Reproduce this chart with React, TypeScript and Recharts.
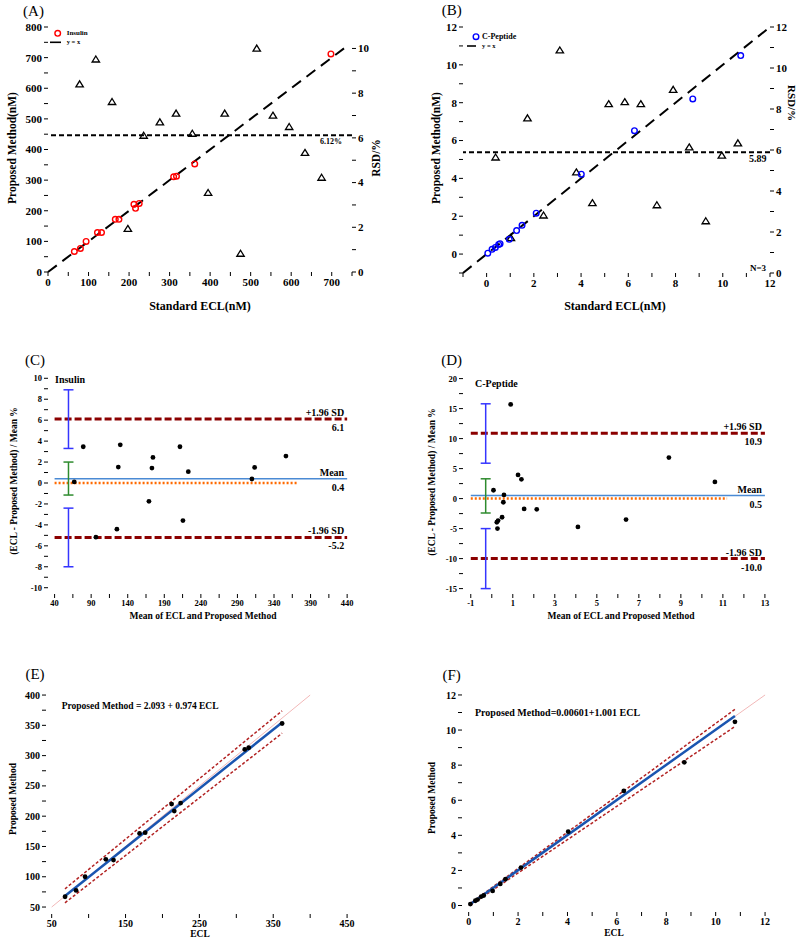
import React from 'react';
import { ScatterChart, Scatter, XAxis, YAxis, ReferenceLine, ReferenceArea, ErrorBar } from 'recharts';

const SERIF = '"Liberation Serif", "Times New Roman", serif';

// (A) insulin: standard ECL vs proposed method, plus RSD triangles
const insStd = [65, 80, 94, 122, 132, 166, 175, 212, 216, 225, 310, 317, 362, 698];
const insProp = [67, 77, 100, 129, 129, 172, 172, 221, 208, 224, 311, 313, 353, 712];
const insRsdX = [78, 118, 158, 197, 236, 276, 316, 356, 395, 436, 475, 515, 555, 595, 634, 675];
const insRsd = [8.4, 9.51, 7.61, 1.93, 6.1, 6.7, 7.09, 6.19, 3.54, 7.09, 0.82, 10.0, 7.0, 6.49, 5.33, 4.22];
const insRsdMean = 6.12;
const insDiag = [0, 740];

// (B) C-peptide
const cpStd = [0.05, 0.23, 0.37, 0.51, 0.57, 0.96, 1.27, 1.5, 2.1, 4.01, 6.26, 8.73, 10.76];
const cpProp = [0.05, 0.25, 0.35, 0.51, 0.55, 0.78, 1.24, 1.52, 2.16, 4.22, 6.52, 8.2, 10.49];
const cpRsdX = [0.38, 1.03, 1.73, 2.41, 3.1, 3.8, 4.48, 5.17, 5.85, 6.53, 7.21, 7.9, 8.58, 9.28, 9.96, 10.64];
const cpRsd = [5.64, 1.71, 7.55, 2.81, 10.86, 4.91, 3.41, 8.24, 8.34, 8.24, 3.31, 8.94, 6.13, 2.53, 5.73, 6.33];
const cpRsdMean = 5.89;
const cpDiag = [-1, 12];

// (C) Bland-Altman insulin
const baInsMean = [79.2, 129.8, 174.5, 211.4, 356.3, 127.1, 173.1, 222.8, 313.5, 309.8, 66.9, 169, 215.5, 125.2, 96.5];
const baInsDiff = [3.46, 3.65, 2.44, 3.46, 2.57, 1.52, 1.43, 1.08, 1.49, 0.38, 0.1, -1.75, -3.59, -4.41, -5.17];
const baInsLimits = { upper: 6.1, mean: 0.4, lower: -5.2 };
const baInsSpan = [40, 440];
const baInsZeroSpan = [40, 373];
const baInsCiX = 59;
const baInsCiLo = [3.3, -1.15, -8.0];
const baInsCiHi = [8.9, 2.0, -2.4];

// (D) Bland-Altman C-peptide
const baCpMean = [0.9, 8.43, 10.62, 0.08, 0.58, 0.55, 1.25, 1.41, 1.54, 2.14, 4.1, 6.39, 0.49, 0.3, 0.24, 0.27];
const baCpDiff = [15.7, 6.83, 2.78, 1.39, 0.61, -0.61, 3.94, 3.22, -1.72, -1.78, -4.72, -3.5, -3.11, -3.67, -3.94, -5.0];
const baCpLimits = { upper: 10.9, mean: 0.5, lower: -10.0 };
const baCpSpan = [-1, 13];
const baCpZeroSpan = [-1, 11.2];
const baCpCiX = -0.29;
const baCpCiLo = [5.9, -2.4, -15.0];
const baCpCiHi = [15.8, 3.3, -5.0];

// (E) regression insulin
const regInsX = [68.1, 83, 95.2, 123.3, 133.7, 169, 176.6, 212.4, 216, 224.6, 311.4, 316.8, 362];
const regInsY = [67, 77.5, 100, 128.7, 127.6, 171.6, 172.7, 220, 208.4, 221.6, 310.2, 313, 353];
const regInsFit = { x: [68, 362], y: [68.3, 354.7] };
const regInsUpper = { x: [68, 362], y: [80, 374] };
const regInsLower = { x: [68, 362], y: [57, 337] };
const regInsDiag = [50, 400];

// (F) regression C-peptide
const regCpX = [0.07, 0.27, 0.36, 0.51, 0.61, 0.97, 1.28, 1.49, 2.12, 4.03, 6.28, 8.73, 10.78];
const regCpY = [0.08, 0.27, 0.34, 0.51, 0.57, 0.83, 1.23, 1.5, 2.16, 4.21, 6.53, 8.16, 10.47];
const regCpFit = { x: [0.07, 10.78], y: [0.08, 10.8] };
const regCpUpper = { x: [0.07, 10.78], y: [0.12, 11.18] };
const regCpLower = { x: [0.07, 10.78], y: [0.02, 10.2] };
const regCpDiag = [0, 12];

// ticks
const aXTicks = [0, 50, 100, 150, 200, 250, 300, 350, 400, 450, 500, 550, 600, 650, 700, 750];
const aXLabels = [0, 100, 200, 300, 400, 500, 600, 700];
const aYTicks = [0, 50, 100, 150, 200, 250, 300, 350, 400, 450, 500, 550, 600, 650, 700, 750, 800];
const aYLabels = [0, 100, 200, 300, 400, 500, 600, 700, 800];
const aRTicks = [0, 1, 2, 3, 4, 5, 6, 7, 8, 9, 10];
const aRLabels = [0, 2, 4, 6, 8, 10];
const bTicks = [-1, 0, 1, 2, 3, 4, 5, 6, 7, 8, 9, 10, 11, 12];
const bLabels = [0, 2, 4, 6, 8, 10, 12];
const bRTicks = [0, 1, 2, 3, 4, 5, 6, 7, 8, 9, 10, 11, 12];
const cXTicks = [40, 65, 90, 115, 140, 165, 190, 215, 240, 265, 290, 315, 340, 365, 390, 415, 440];
const cXLabels = [40, 90, 140, 190, 240, 290, 340, 390, 440];
const cYTicks = [-10, -9, -8, -7, -6, -5, -4, -3, -2, -1, 0, 1, 2, 3, 4, 5, 6, 7, 8, 9, 10];
const cYLabels = [-10, -8, -6, -4, -2, 0, 2, 4, 6, 8, 10];
const dXTicks = [-1, 0, 1, 2, 3, 4, 5, 6, 7, 8, 9, 10, 11, 12, 13];
const dXLabels = [-1, 1, 3, 5, 7, 9, 11, 13];
const dYTicks = [-15, -12.5, -10, -7.5, -5, -2.5, 0, 2.5, 5, 7.5, 10, 12.5, 15, 17.5, 20];
const dYLabels = [-15, -10, -5, 0, 5, 10, 15, 20];
const eXTicks = [50, 100, 150, 200, 250, 300, 350, 400, 450];
const eXLabels = [50, 150, 250, 350, 450];
const eYTicks = [50, 75, 100, 125, 150, 175, 200, 225, 250, 275, 300, 325, 350, 375, 400];
const eYLabels = [50, 100, 150, 200, 250, 300, 350, 400];
const fTicks = [0, 1, 2, 3, 4, 5, 6, 7, 8, 9, 10, 11, 12];
const fLabels = [0, 2, 4, 6, 8, 10, 12];

const pts = (xs: number[], ys: number[]) => xs.map((x, i) => ({ x, y: ys[i] }));
const seg = (s: { x: number[]; y: number[] }) => [{ x: s.x[0], y: s.y[0] }, { x: s.x[1], y: s.y[1] }];
const ciRows = (cx: number, lo: number[], hi: number[]) =>
  lo.map((l, i) => ({ x: cx, y: (l + hi[i]) / 2, err: (hi[i] - l) / 2 }));

const lab = (list: number[]) => (v: number) => (list.includes(v) ? String(v) : '');
const tickStyle = (size: number) => ({ fontSize: size, fontWeight: 700, fill: '#000', fontFamily: SERIF });

const ring = (color: string) => (p: any) => (
  <circle cx={p.cx} cy={p.cy} r={2.8} fill="none" stroke={color} strokeWidth={1.4} />
);
const tri = (p: any) => (
  <path
    d={`M${p.cx},${p.cy - 3.4} L${p.cx + 3.7},${p.cy + 2.6} L${p.cx - 3.7},${p.cy + 2.6} Z`}
    fill="none"
    stroke="#000"
    strokeWidth={1.3}
  />
);
const dot = (p: any) => <circle cx={p.cx} cy={p.cy} r={2.4} fill="#000" />;
const none = () => <g />;

const sideLabel = (above: string, below: string) => (props: any) => {
  const { x, y, width } = props.viewBox;
  const rx = x + width - 3;
  return (
    <g fontFamily={SERIF} fontWeight={700} fontSize={10} fill="#000">
      <text x={rx} y={y - 3} textAnchor="end">{above}</text>
      <text x={rx} y={y + 12} textAnchor="end">{below}</text>
    </g>
  );
};

const T = ({ x, y, s, w = 700, rot = 0, a = 'c', children }: any) => (
  <div
    style={{
      position: 'absolute',
      left: x,
      top: y,
      transform: `translate(${a === 'c' ? '-50%' : a === 'e' ? '-100%' : '0'}, -50%) rotate(${rot}deg)`,
      fontSize: s,
      fontWeight: w,
      fontFamily: SERIF,
      whiteSpace: 'nowrap',
      lineHeight: 1,
      color: '#000',
    }}
  >
    {children}
  </div>
);

const Box = ({ left, top, children }: any) => (
  <div style={{ position: 'absolute', left, top }}>{children}</div>
);

const axisCommon = { axisLine: false, tickLine: { stroke: '#000' }, tickSize: 4, interval: 0 as const, allowDataOverflow: true };

export default function App() {
  const frame = (id: string) => <ReferenceArea yAxisId={id} fill="none" stroke="#000" strokeWidth={2} ifOverflow="visible" />;

  return (
    <div style={{ position: 'absolute', left: 0, top: 0, width: 800, height: 942, background: '#fff', overflow: 'hidden' }}>
      {/* (A) */}
      <Box left={0} top={0}>
        <ScatterChart width={400} height={300} margin={{ top: 27, right: 0, bottom: 0, left: 0 }}>
          <XAxis type="number" dataKey="x" domain={[0, 750]} ticks={aXTicks} tickFormatter={lab(aXLabels)} height={28} tick={tickStyle(11)} {...axisCommon} />
          <YAxis yAxisId="l" type="number" dataKey="y" domain={[0, 800]} ticks={aYTicks} tickFormatter={lab(aYLabels)} width={48} tick={tickStyle(11)} {...axisCommon} />
          <YAxis yAxisId="r" orientation="right" type="number" dataKey="y" domain={[0, 10.96]} ticks={aRTicks} tickFormatter={lab(aRLabels)} width={48} tick={tickStyle(11)} {...axisCommon} />
          <ReferenceLine yAxisId="r" y={insRsdMean} stroke="#000" strokeWidth={2} strokeDasharray="5 3" />
          <ReferenceLine yAxisId="l" segment={[{ x: insDiag[0], y: insDiag[0] }, { x: insDiag[1], y: insDiag[1] }]} stroke="#000" strokeWidth={2} strokeDasharray="11 7" />
          <Scatter yAxisId="r" data={pts(insRsdX, insRsd)} shape={tri} isAnimationActive={false} />
          <Scatter yAxisId="l" data={pts(insStd, insProp)} shape={ring('#ff0000')} isAnimationActive={false} />
          {frame('l')}
        </ScatterChart>
      </Box>

      {/* (B) */}
      <Box left={400} top={0}>
        <ScatterChart width={400} height={300} margin={{ top: 27, right: 0, bottom: 0, left: 0 }}>
          <XAxis type="number" dataKey="x" domain={[-1, 12]} ticks={bTicks} tickFormatter={lab(bLabels)} height={27} tick={tickStyle(11)} {...axisCommon} />
          <YAxis yAxisId="l" type="number" dataKey="y" domain={[-1, 12]} ticks={bTicks} tickFormatter={lab(bLabels)} width={63} tick={tickStyle(11)} {...axisCommon} />
          <YAxis yAxisId="r" orientation="right" type="number" dataKey="y" domain={[0, 12]} ticks={bRTicks} tickFormatter={lab(bLabels)} width={30} tick={tickStyle(11)} {...axisCommon} />
          <ReferenceLine yAxisId="r" y={cpRsdMean} stroke="#000" strokeWidth={2} strokeDasharray="5 3" />
          <ReferenceLine yAxisId="l" segment={[{ x: cpDiag[0], y: cpDiag[0] }, { x: cpDiag[1], y: cpDiag[1] }]} stroke="#000" strokeWidth={2} strokeDasharray="11 7" />
          <Scatter yAxisId="r" data={pts(cpRsdX, cpRsd)} shape={tri} isAnimationActive={false} />
          <Scatter yAxisId="l" data={pts(cpStd, cpProp)} shape={ring('#0000ff')} isAnimationActive={false} />
          {frame('l')}
        </ScatterChart>
      </Box>

      {/* (C) */}
      <Box left={0} top={310}>
        <ScatterChart width={400} height={310} margin={{ top: 62, right: 47, bottom: 0, left: 0 }}>
          <XAxis type="number" dataKey="x" domain={[31, 448]} ticks={cXTicks} tickFormatter={lab(cXLabels)} height={26} tick={tickStyle(8.5)} {...axisCommon} />
          <YAxis yAxisId="l" type="number" dataKey="y" domain={[-10.6, 10.6]} ticks={cYTicks} tickFormatter={lab(cYLabels)} width={48} tick={tickStyle(8.5)} {...axisCommon} />
          <ReferenceLine yAxisId="l" segment={[{ x: baInsSpan[0], y: baInsLimits.upper }, { x: baInsSpan[1], y: baInsLimits.upper }]} stroke="#8b0000" strokeWidth={3} strokeDasharray="7 3" label={sideLabel('+1.96 SD', String(baInsLimits.upper))} />
          <ReferenceLine yAxisId="l" segment={[{ x: baInsSpan[0], y: baInsLimits.lower }, { x: baInsSpan[1], y: baInsLimits.lower }]} stroke="#8b0000" strokeWidth={3} strokeDasharray="7 3" label={sideLabel('-1.96 SD', String(baInsLimits.lower))} />
          <ReferenceLine yAxisId="l" segment={[{ x: baInsSpan[0], y: baInsLimits.mean }, { x: baInsSpan[1], y: baInsLimits.mean }]} stroke="#4a8ad4" strokeWidth={1.5} label={sideLabel('Mean', String(baInsLimits.mean))} />
          <ReferenceLine yAxisId="l" segment={[{ x: baInsZeroSpan[0], y: 0 }, { x: baInsZeroSpan[1], y: 0 }]} stroke="#ff6a00" strokeWidth={2.5} strokeDasharray="2 2" />
          <Scatter yAxisId="l" data={ciRows(baInsCiX, baInsCiLo.slice(0, 1), baInsCiHi.slice(0, 1))} shape={none} isAnimationActive={false}>
            <ErrorBar dataKey="err" direction="y" width={5} stroke="#3535ff" strokeWidth={1.5} />
          </Scatter>
          <Scatter yAxisId="l" data={ciRows(baInsCiX, baInsCiLo.slice(1, 2), baInsCiHi.slice(1, 2))} shape={none} isAnimationActive={false}>
            <ErrorBar dataKey="err" direction="y" width={5} stroke="#2e8b2e" strokeWidth={1.5} />
          </Scatter>
          <Scatter yAxisId="l" data={ciRows(baInsCiX, baInsCiLo.slice(2), baInsCiHi.slice(2))} shape={none} isAnimationActive={false}>
            <ErrorBar dataKey="err" direction="y" width={5} stroke="#3535ff" strokeWidth={1.5} />
          </Scatter>
          <Scatter yAxisId="l" data={pts(baInsMean, baInsDiff)} shape={dot} isAnimationActive={false} />
          {frame('l')}
        </ScatterChart>
      </Box>

      {/* (D) */}
      <Box left={400} top={310}>
        <ScatterChart width={400} height={310} margin={{ top: 62, right: 29, bottom: 0, left: 0 }}>
          <XAxis type="number" dataKey="x" domain={[-1.37, 13.29]} ticks={dXTicks} tickFormatter={lab(dXLabels)} height={26} tick={tickStyle(8.5)} {...axisCommon} />
          <YAxis yAxisId="l" type="number" dataKey="y" domain={[-15.9, 21.1]} ticks={dYTicks} tickFormatter={lab(dYLabels)} width={63} tick={tickStyle(8.5)} {...axisCommon} />
          <ReferenceLine yAxisId="l" segment={[{ x: baCpSpan[0], y: baCpLimits.upper }, { x: baCpSpan[1], y: baCpLimits.upper }]} stroke="#8b0000" strokeWidth={3} strokeDasharray="7 3" label={sideLabel('+1.96 SD', String(baCpLimits.upper))} />
          <ReferenceLine yAxisId="l" segment={[{ x: baCpSpan[0], y: baCpLimits.lower }, { x: baCpSpan[1], y: baCpLimits.lower }]} stroke="#8b0000" strokeWidth={3} strokeDasharray="7 3" label={sideLabel('-1.96 SD', baCpLimits.lower.toFixed(1))} />
          <ReferenceLine yAxisId="l" segment={[{ x: baCpSpan[0], y: baCpLimits.mean }, { x: baCpSpan[1], y: baCpLimits.mean }]} stroke="#4a8ad4" strokeWidth={1.5} label={sideLabel('Mean', String(baCpLimits.mean))} />
          <ReferenceLine yAxisId="l" segment={[{ x: baCpZeroSpan[0], y: 0 }, { x: baCpZeroSpan[1], y: 0 }]} stroke="#ff6a00" strokeWidth={2.5} strokeDasharray="2 2" />
          <Scatter yAxisId="l" data={ciRows(baCpCiX, baCpCiLo.slice(0, 1), baCpCiHi.slice(0, 1))} shape={none} isAnimationActive={false}>
            <ErrorBar dataKey="err" direction="y" width={5} stroke="#3535ff" strokeWidth={1.5} />
          </Scatter>
          <Scatter yAxisId="l" data={ciRows(baCpCiX, baCpCiLo.slice(1, 2), baCpCiHi.slice(1, 2))} shape={none} isAnimationActive={false}>
            <ErrorBar dataKey="err" direction="y" width={5} stroke="#2e8b2e" strokeWidth={1.5} />
          </Scatter>
          <Scatter yAxisId="l" data={ciRows(baCpCiX, baCpCiLo.slice(2), baCpCiHi.slice(2))} shape={none} isAnimationActive={false}>
            <ErrorBar dataKey="err" direction="y" width={5} stroke="#3535ff" strokeWidth={1.5} />
          </Scatter>
          <Scatter yAxisId="l" data={pts(baCpMean, baCpDiff)} shape={dot} isAnimationActive={false} />
          {frame('l')}
        </ScatterChart>
      </Box>

      {/* (E) */}
      <Box left={0} top={660}>
        <ScatterChart width={400} height={282} margin={{ top: 29, right: 47, bottom: 0, left: 0 }}>
          <XAxis type="number" dataKey="x" domain={[42.3, 458]} ticks={eXTicks} tickFormatter={lab(eXLabels)} height={28} tick={tickStyle(10)} {...axisCommon} />
          <YAxis yAxisId="l" type="number" dataKey="y" domain={[38.5, 410]} ticks={eYTicks} tickFormatter={lab(eYLabels)} width={46} tick={tickStyle(10)} {...axisCommon} />
          <ReferenceLine yAxisId="l" segment={[{ x: regInsDiag[0], y: regInsDiag[0] }, { x: regInsDiag[1], y: regInsDiag[1] }]} stroke="#f2b8b8" strokeWidth={1} />
          <ReferenceLine yAxisId="l" segment={seg(regInsUpper)} stroke="#b22222" strokeWidth={1.5} strokeDasharray="3 2" />
          <ReferenceLine yAxisId="l" segment={seg(regInsLower)} stroke="#b22222" strokeWidth={1.5} strokeDasharray="3 2" />
          <ReferenceLine yAxisId="l" segment={seg(regInsFit)} stroke="#1a55b0" strokeWidth={2.5} />
          <Scatter yAxisId="l" data={pts(regInsX, regInsY)} shape={dot} isAnimationActive={false} />
          {frame('l')}
        </ScatterChart>
      </Box>

      {/* (F) */}
      <Box left={400} top={660}>
        <ScatterChart width={400} height={282} margin={{ top: 29, right: 29, bottom: 0, left: 0 }}>
          <XAxis type="number" dataKey="x" domain={[-0.27, 12.24]} ticks={fTicks} tickFormatter={lab(fLabels)} height={30} tick={tickStyle(10)} {...axisCommon} />
          <YAxis yAxisId="l" type="number" dataKey="y" domain={[-0.37, 12.34]} ticks={fTicks} tickFormatter={lab(fLabels)} width={62} tick={tickStyle(10)} {...axisCommon} />
          <ReferenceLine yAxisId="l" segment={[{ x: regCpDiag[0], y: regCpDiag[0] }, { x: regCpDiag[1], y: regCpDiag[1] }]} stroke="#f2b8b8" strokeWidth={1} />
          <ReferenceLine yAxisId="l" segment={seg(regCpUpper)} stroke="#b22222" strokeWidth={1.5} strokeDasharray="3 2" />
          <ReferenceLine yAxisId="l" segment={seg(regCpLower)} stroke="#b22222" strokeWidth={1.5} strokeDasharray="3 2" />
          <ReferenceLine yAxisId="l" segment={seg(regCpFit)} stroke="#1a55b0" strokeWidth={2.5} />
          <Scatter yAxisId="l" data={pts(regCpX, regCpY)} shape={dot} isAnimationActive={false} />
          {frame('l')}
        </ScatterChart>
      </Box>

      {/* panel letters */}
      <T x={33.5} y={11} s={15} w={400}>(A)</T>
      <T x={451.7} y={10} s={15} w={400}>(B)</T>
      <T x={35} y={360} s={15} w={400}>(C)</T>
      <T x={451.7} y={360} s={15} w={400}>(D)</T>
      <T x={35} y={674} s={15} w={400}>(E)</T>
      <T x={451.7} y={675} s={15} w={400}>(F)</T>

      {/* axis titles */}
      <T x={12.5} y={148} s={11.5} rot={-90}>Proposed Method(nM)</T>
      <T x={200} y={306} s={12}>Standard ECL(nM)</T>
      <T x={376.7} y={158} s={11.5} rot={-90}>RSD/%</T>
      <T x={437} y={148} s={11.5} rot={-90}>Proposed Method(nM)</T>
      <T x={615} y={306} s={12}>Standard ECL(nM)</T>
      <T x={791} y={103} s={11} rot={90}>RSD/%</T>
      <T x={15} y={481} s={9.5} rot={-90}>(ECL - Proposed Method) / Mean %</T>
      <T x={203} y={617} s={9.5}>Mean of ECL and Proposed Method</T>
      <T x={433} y={482} s={9.5} rot={-90}>(ECL - Proposed Method) / Mean %</T>
      <T x={621} y={617} s={9.5}>Mean of ECL and Proposed Method</T>
      <T x={13.5} y={799} s={9.5} rot={-90}>Proposed Method</T>
      <T x={200} y={935} s={9.5}>ECL</T>
      <T x={433} y={798} s={9.5} rot={-90}>Proposed Method</T>
      <T x={614} y={934} s={9.5}>ECL</T>

      {/* annotations */}
      <T x={331} y={142} s={8}>{insRsdMean}%</T>
      <T x={757.7} y={159} s={10}>{cpRsdMean}</T>
      <T x={758} y={268} s={9}>N=3</T>
      <T x={55} y={380} s={10} a="s">Insulin</T>
      <T x={475} y={384} s={10} a="s">C-Peptide</T>
      <T x={61.7} y={707} s={9.5} a="s">Proposed Method = 2.093 + 0.974 ECL</T>
      <T x={475} y={713} s={10} a="s">Proposed Method=0.00601+1.001 ECL</T>

      {/* legends */}
      <svg style={{ position: 'absolute', left: 0, top: 0 }} width={800} height={60}>
        <circle cx={57.7} cy={33.3} r={2.8} fill="none" stroke="#ff0000" strokeWidth={1.4} />
        <line x1={50} y1={42.3} x2={61} y2={42.3} stroke="#000" strokeWidth={1.6} />
        <circle cx={476} cy={36.7} r={2.8} fill="none" stroke="#0000ff" strokeWidth={1.4} />
        <line x1={467} y1={46} x2={476} y2={46} stroke="#000" strokeWidth={1.6} />
      </svg>
      <T x={66.7} y={33.3} s={7} a="s">Insulin</T>
      <T x={66.7} y={42.3} s={6.5} a="s">y = x</T>
      <T x={482} y={36.7} s={8} a="s">C-Peptide</T>
      <T x={482} y={46} s={6.5} a="s">y = x</T>
    </div>
  );
}
